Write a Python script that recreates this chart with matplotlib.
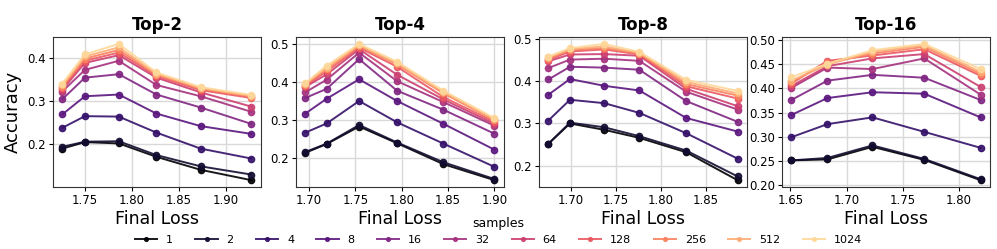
import numpy as np
import matplotlib
matplotlib.use("Agg")
import matplotlib.pyplot as plt
from matplotlib.ticker import MultipleLocator, FormatStrFormatter

samples = [1, 2, 4, 8, 16, 32, 64, 128, 256, 512, 1024]
titles = ["Top-2", "Top-4", "Top-8", "Top-16"]

# final loss per checkpoint, one list per panel
loss_top2 = [1.726, 1.750, 1.786, 1.826, 1.873, 1.927]
loss_top4 = [1.696, 1.719, 1.754, 1.795, 1.845, 1.900]
loss_top8 = [1.675, 1.699, 1.737, 1.776, 1.828, 1.885]
loss_top16 = [1.651, 1.683, 1.723, 1.769, 1.819]

# accuracy per number of samples (rows follow `samples`)
acc_top2 = [
    [0.190, 0.205, 0.202, 0.171, 0.141, 0.117],
    [0.194, 0.206, 0.207, 0.175, 0.149, 0.130],
    [0.238, 0.265, 0.264, 0.227, 0.190, 0.167],
    [0.269, 0.311, 0.315, 0.271, 0.242, 0.224],
    [0.304, 0.354, 0.362, 0.315, 0.285, 0.247],
    [0.322, 0.372, 0.393, 0.337, 0.311, 0.275],
    [0.326, 0.388, 0.406, 0.354, 0.320, 0.287],
    [0.330, 0.393, 0.412, 0.358, 0.325, 0.307],
    [0.333, 0.398, 0.418, 0.361, 0.328, 0.310],
    [0.336, 0.403, 0.424, 0.363, 0.330, 0.312],
    [0.340, 0.408, 0.432, 0.366, 0.332, 0.314],
]
acc_top4 = [
    [0.214, 0.237, 0.283, 0.239, 0.184, 0.142],
    [0.216, 0.238, 0.287, 0.241, 0.189, 0.145],
    [0.267, 0.291, 0.350, 0.294, 0.238, 0.177],
    [0.317, 0.356, 0.407, 0.350, 0.290, 0.222],
    [0.358, 0.382, 0.460, 0.377, 0.327, 0.264],
    [0.373, 0.406, 0.477, 0.402, 0.347, 0.285],
    [0.387, 0.420, 0.486, 0.419, 0.354, 0.290],
    [0.390, 0.428, 0.490, 0.440, 0.360, 0.295],
    [0.393, 0.433, 0.494, 0.446, 0.370, 0.299],
    [0.395, 0.438, 0.497, 0.449, 0.373, 0.302],
    [0.397, 0.443, 0.500, 0.453, 0.377, 0.305],
]
acc_top8 = [
    [0.252, 0.300, 0.285, 0.266, 0.232, 0.166],
    [0.252, 0.302, 0.291, 0.270, 0.236, 0.175],
    [0.307, 0.356, 0.348, 0.325, 0.277, 0.217],
    [0.368, 0.405, 0.389, 0.378, 0.313, 0.281],
    [0.404, 0.434, 0.432, 0.427, 0.353, 0.304],
    [0.431, 0.451, 0.453, 0.448, 0.375, 0.333],
    [0.447, 0.463, 0.464, 0.460, 0.382, 0.341],
    [0.450, 0.470, 0.475, 0.463, 0.388, 0.359],
    [0.453, 0.474, 0.478, 0.465, 0.393, 0.366],
    [0.456, 0.476, 0.482, 0.467, 0.398, 0.371],
    [0.458, 0.478, 0.488, 0.469, 0.403, 0.377],
]
acc_top16 = [
    [0.251, 0.253, 0.279, 0.252, 0.210],
    [0.251, 0.256, 0.282, 0.254, 0.212],
    [0.299, 0.326, 0.340, 0.310, 0.277],
    [0.345, 0.380, 0.392, 0.389, 0.340],
    [0.376, 0.416, 0.428, 0.422, 0.376],
    [0.401, 0.443, 0.440, 0.462, 0.387],
    [0.405, 0.446, 0.462, 0.471, 0.403],
    [0.410, 0.457, 0.468, 0.481, 0.426],
    [0.413, 0.452, 0.472, 0.486, 0.430],
    [0.416, 0.449, 0.476, 0.489, 0.434],
    [0.423, 0.451, 0.479, 0.492, 0.440],
]

all_loss = [loss_top2, loss_top4, loss_top8, loss_top16]
all_acc = [acc_top2, acc_top4, acc_top8, acc_top16]
y_steps = [0.1, 0.1, 0.1, 0.05]
y_fmt = ['%.1f', '%.1f', '%.1f', '%.2f']

colors = plt.cm.magma(np.linspace(0, 0.92, len(samples)))

fig, axes = plt.subplots(1, 4, figsize=(9.97, 2.49), dpi=100)
fig.subplots_adjust(left=0.053, right=0.993, top=0.851, bottom=0.249, wspace=0.168)

for p in range(4):
    ax = axes[p]
    for i in range(len(samples)):
        ax.plot(all_loss[p], all_acc[p][i], marker='o', markersize=4.5,
                color=colors[i], linewidth=1.4, alpha=0.9, label=str(samples[i]))
    ax.set_title(titles[p], fontsize=12, fontweight='bold', pad=5)
    ax.set_xlabel("Final Loss", fontsize=12.5, labelpad=2)
    ax.xaxis.set_major_locator(MultipleLocator(0.05))
    ax.xaxis.set_major_formatter(FormatStrFormatter('%.2f'))
    ax.yaxis.set_major_locator(MultipleLocator(y_steps[p]))
    ax.yaxis.set_major_formatter(FormatStrFormatter(y_fmt[p]))
    ax.grid(True, color='#d9d9d9', linewidth=1)
    ax.set_axisbelow(True)
    ax.tick_params(labelsize=8.5, length=3, pad=2)
    for s in ax.spines.values():
        s.set_color('#333333')

axes[0].set_ylabel("Accuracy", fontsize=13, labelpad=4)

handles, labels = axes[0].get_legend_handles_labels()
fig.legend(handles, labels, loc='lower center', bbox_to_anchor=(0.5, -0.025),
           ncol=11, frameon=False, title='samples', fontsize=8,
           title_fontsize=9, columnspacing=2.0, handlelength=2.0,
           handletextpad=0.8, markerscale=0.6)

fig.savefig("out.png", dpi=100)
